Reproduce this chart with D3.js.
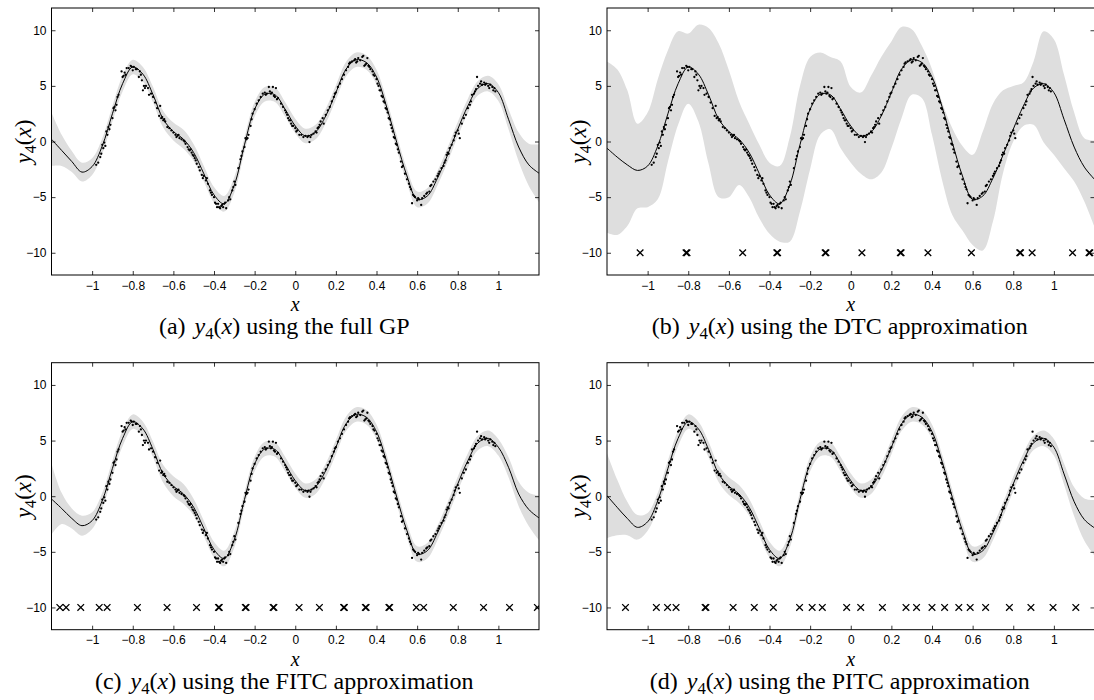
<!DOCTYPE html>
<html>
<head>
<meta charset="utf-8">
<script src="https://cdn.jsdelivr.net/npm/d3@7"></script>
<style>
body { margin: 0; background: #fff; }
.ticks text { font-family: "Liberation Sans", Arial, sans-serif; font-size: 12px; fill: #000; }
.serif { font-family: "Liberation Serif", "Times New Roman", serif; fill: #000; }
</style>
</head>
<body>
<svg id="fig" width="1094" height="700"></svg>
<script>
// grid the predictive curves were read on
var xGrid = [-1.2,-1.15,-1.1,-1.05,-1,-0.95,-0.9,-0.85,-0.8,-0.75,-0.7,-0.65,-0.6,-0.55,-0.5,-0.45,-0.4,-0.35,-0.3,-0.25,
  -0.2,-0.15,-0.1,-0.05,0,0.05,0.1,0.15,0.2,0.25,0.3,0.35,0.4,0.45,0.5,0.55,0.6,0.65,0.7,0.75,0.8,0.85,0.9,0.95,1,1.05,1.1,1.15,1.2];

// predictive means
var meanA = [0.2,-0.8,-1.8,-2.75,-2.25,-0.4,2.5,5.2,6.7,6.05,4.2,2.0,0.9,0.2,-1.0,-2.9,-4.8,-5.6,-3.9,-0.3,
  2.9,4.25,4.2,2.9,1.4,0.5,0.85,2.3,4.4,6.5,7.35,7.1,5.8,3.1,-0.1,-3.1,-5.2,-4.9,-3.3,-1.2,1.1,3.2,4.8,5.2,4.4,2.0,-0.5,-2.1,-2.85];
var meanB = [-0.6,-1.4,-2.1,-2.6,-2.2,-0.4,2.5,5.2,6.7,6.05,4.2,2.0,0.9,0.2,-1.0,-2.9,-4.8,-5.6,-3.9,-0.3,
  2.9,4.25,4.2,2.9,1.4,0.5,0.85,2.3,4.4,6.5,7.35,7.1,5.8,3.1,-0.1,-3.1,-5.2,-4.9,-3.3,-1.2,1.1,3.2,4.8,5.2,4.4,2.0,-0.5,-2.3,-3.4];
var meanC = [-0.25,-1.1,-2.0,-2.65,-2.2,-0.4,2.5,5.2,6.7,6.05,4.2,2.0,0.9,0.2,-1.0,-2.9,-4.8,-5.6,-3.9,-0.3,
  2.9,4.25,4.2,2.9,1.4,0.5,0.85,2.3,4.4,6.5,7.35,7.1,5.8,3.1,-0.1,-3.1,-5.2,-4.9,-3.3,-1.2,1.1,3.2,4.8,5.2,4.4,2.6,0.2,-1.2,-1.95];
var meanD = [0.05,-1.0,-2.0,-2.8,-2.3,-0.4,2.5,5.2,6.7,6.05,4.2,2.0,0.9,0.2,-1.0,-2.9,-4.8,-5.6,-3.9,-0.3,
  2.9,4.25,4.2,2.9,1.4,0.5,0.85,2.3,4.4,6.5,7.35,7.1,5.8,3.1,-0.1,-3.1,-5.2,-4.9,-3.3,-1.2,1.1,3.2,4.8,5.2,4.4,2.0,-0.5,-2.1,-2.85];

// two standard deviations (full GP, FITC, PITC)
var sdA = [2.4,1.4,0.95,0.85,0.75,0.7,0.7,0.7,0.65,0.65,0.7,0.75,0.8,0.85,0.75,0.7,0.7,0.7,0.7,0.65,
  0.65,0.65,0.65,0.65,0.65,0.65,0.65,0.65,0.65,0.65,0.65,0.65,0.65,0.65,0.65,0.65,0.7,0.7,0.65,0.65,0.65,0.65,0.65,0.7,0.75,0.9,1.3,1.9,2.6];
var sdC = [3.2,1.4,0.9,0.9,0.75,0.7,0.7,0.7,0.65,0.65,0.7,0.8,0.9,0.9,0.75,0.7,0.7,0.7,0.7,0.65,
  0.65,0.65,0.65,0.65,0.65,0.65,0.65,0.65,0.65,0.65,0.65,0.65,0.65,0.65,0.65,0.65,0.7,0.7,0.65,0.65,0.65,0.65,0.65,0.7,0.75,0.9,1.1,1.5,2.0];
var sdD = [3.8,2.5,1.5,1.1,0.8,0.7,0.7,0.7,0.65,0.65,0.7,0.75,0.8,0.8,0.75,0.7,0.7,0.7,0.7,0.65,
  0.65,0.65,0.65,0.65,0.65,0.65,0.65,0.65,0.65,0.65,0.65,0.65,0.65,0.65,0.65,0.65,0.7,0.7,0.65,0.65,0.65,0.65,0.65,0.7,0.75,0.95,1.3,1.9,2.5];

// DTC band edges
var upB = [7.2,6.5,4.6,1.6,2.6,5.6,8.2,9.9,9.7,10.5,10.2,8.8,6.4,3.6,1.6,-0.3,-1.9,-2.2,0.4,5.0,
  7.6,8.0,7.6,7.2,4.9,4.4,5.9,7.6,9.0,10.3,10.1,8.6,6.5,3.5,1.2,-0.4,-1.2,0.9,3.4,4.6,5.0,5.3,7.2,9.9,9.2,6.0,2.6,0.3,0.1];
var loB = [-8.2,-8.4,-7.6,-6.0,-5.9,-5.2,-1.8,1.5,3.4,1.8,-2.0,-5.0,-5.0,-3.9,-5.0,-6.9,-8.3,-9.0,-9.0,-6.3,
  -2.5,0.6,1.1,-0.6,-1.9,-2.9,-3.4,-2.8,-0.6,2.1,4.2,3.9,0.6,-3.5,-6.6,-8.0,-9.3,-9.8,-7.2,-2.8,0.0,1.4,1.5,-0.1,-1.2,-2.4,-3.6,-5.4,-7.7];

// training data (same in every panel)
var obs = [[-0.98,-2.1],[-0.97,-1.9],[-0.96,-1.4],[-0.955,-1.1],[-0.95,-0.3],[-0.945,-0.6],[-0.94,-0.1],[-0.935,-0.4],
  [-0.93,0.9],[-0.925,0.6],[-0.92,1.3],[-0.915,1.1],[-0.91,1.5],[-0.9,2.1],[-0.895,3.0],[-0.89,3.1],[-0.885,2.8],
  [-0.88,3.3],[-0.875,4.0],[-0.87,4.2],[-0.855,6.3],[-0.85,5.8],[-0.845,5.9],[-0.84,6.2],[-0.835,6.0],[-0.83,6.6],
  [-0.82,6.6],[-0.81,6.8],[-0.805,6.7],[-0.8,6.4],[-0.795,6.7],[-0.785,6.5],[-0.78,6.5],[-0.77,5.8],[-0.765,6.3],
  [-0.76,6.0],[-0.755,5.5],[-0.75,4.6],[-0.745,5.0],[-0.74,4.8],[-0.735,5.0],[-0.725,4.8],[-0.72,4.2],[-0.71,4.3],
  [-0.7,4.0],[-0.69,3.5],[-0.68,3.0],[-0.67,2.3],[-0.665,3.2],[-0.66,2.1],[-0.655,2.2],[-0.65,1.9],[-0.645,2.0],
  [-0.64,1.8],[-0.63,1.3],[-0.62,1.2],[-0.61,1.0],[-0.6,0.8],[-0.59,0.6],[-0.585,0.4],[-0.58,0.5],[-0.575,0.6],
  [-0.57,0.3],[-0.56,0.2],[-0.55,0.1],[-0.545,0.0],[-0.54,-0.2],[-0.53,-0.5],[-0.525,-0.7],[-0.52,-0.8],[-0.515,-0.7],
  [-0.51,-1.0],[-0.505,-1.2],[-0.5,-1.3],[-0.495,-1.5],[-0.49,-1.7],[-0.485,-2.0],[-0.475,-2.3],[-0.47,-2.6],
  [-0.46,-3.0],[-0.455,-3.3],[-0.45,-3.1],[-0.44,-3.5],[-0.435,-3.3],[-0.43,-3.8],[-0.42,-4.4],[-0.415,-4.6],
  [-0.41,-4.8],[-0.4,-5.0],[-0.395,-5.5],[-0.39,-5.6],[-0.385,-5.9],[-0.38,-5.6],[-0.375,-5.9],[-0.37,-6.0],
  [-0.365,-5.8],[-0.36,-5.7],[-0.355,-5.9],[-0.35,-5.6],[-0.345,-5.5],[-0.34,-6.0],[-0.33,-5.3],[-0.325,-5.0],
  [-0.32,-5.2],[-0.31,-4.4],[-0.305,-4.1],[-0.3,-3.6],[-0.295,-3.9],[-0.28,-2.4],[-0.27,-1.6],[-0.265,-1.3],
  [-0.26,-0.9],[-0.25,-0.5],[-0.245,0.3],[-0.24,0.2],[-0.235,0.3],[-0.23,0.6],[-0.22,1.4],[-0.215,2.0],[-0.21,2.5],
  [-0.2,2.9],[-0.19,3.4],[-0.18,3.7],[-0.17,4.0],[-0.16,4.3],[-0.15,4.4],[-0.145,4.2],[-0.14,4.3],[-0.13,4.9],
  [-0.125,4.5],[-0.12,4.3],[-0.115,4.4],[-0.11,4.9],[-0.105,4.1],[-0.1,4.0],[-0.095,4.8],[-0.09,3.8],[-0.085,3.9],
  [-0.07,3.4],[-0.06,3.1],[-0.05,2.8],[-0.045,2.6],[-0.04,2.4],[-0.035,2.1],[-0.03,1.9],[-0.025,1.9],[-0.02,1.6],
  [-0.015,1.4],[-0.01,1.4],[0.0,1.2],[0.005,0.9],[0.01,1.0],[0.02,0.6],[0.03,0.6],[0.04,0.4],[0.05,0.5],[0.06,0.4],
  [0.065,0.5],[0.07,-0.05],[0.075,0.4],[0.08,0.6],[0.09,0.7],[0.1,0.9],[0.105,0.8],[0.11,1.2],[0.115,1.3],[0.12,1.5],
  [0.125,1.8],[0.135,2.1],[0.14,1.6],[0.15,2.4],[0.16,2.8],[0.17,3.1],[0.18,3.6],[0.19,4.0],[0.195,4.3],[0.2,4.4],
  [0.21,4.9],[0.22,5.2],[0.23,5.6],[0.24,6.0],[0.25,6.4],[0.26,6.7],[0.265,7.0],[0.27,7.1],[0.28,7.2],[0.29,7.3],
  [0.295,7.4],[0.3,7.1],[0.305,7.2],[0.31,7.5],[0.32,7.3],[0.33,7.6],[0.335,7.7],[0.34,6.8],[0.345,6.9],[0.35,7.0],
  [0.355,7.5],[0.36,6.8],[0.365,6.7],[0.37,6.5],[0.38,6.3],[0.385,6.0],[0.39,5.9],[0.4,5.6],[0.405,5.2],[0.41,5.0],
  [0.415,4.6],[0.42,4.6],[0.425,4.1],[0.43,4.0],[0.435,3.6],[0.44,3.5],[0.445,3.0],[0.45,2.9],[0.455,2.6],[0.46,2.1],
  [0.465,2.0],[0.47,1.5],[0.475,1.2],[0.48,0.9],[0.485,0.4],[0.49,0.3],[0.495,-0.2],[0.5,-0.3],[0.505,-0.7],[0.51,-1.0],
  [0.52,-1.8],[0.525,-2.3],[0.53,-2.2],[0.54,-2.9],[0.55,-3.4],[0.56,-3.8],[0.565,-4.1],[0.57,-4.3],[0.575,-5.55],
  [0.58,-4.8],[0.585,-4.9],[0.59,-5.0],[0.6,-5.3],[0.605,-5.1],[0.61,-5.2],[0.62,-5.7],[0.625,-5.1],[0.635,-4.9],
  [0.645,-4.7],[0.65,-4.6],[0.66,-4.5],[0.665,-4.0],[0.67,-3.9],[0.68,-3.6],[0.69,-3.4],[0.7,-3.1],[0.705,-2.9],
  [0.71,-2.7],[0.72,-2.4],[0.73,-2.2],[0.735,-1.9],[0.74,-1.7],[0.745,-1.2],[0.75,-1.0],[0.755,-1.1],[0.76,-0.6],
  [0.77,-0.3],[0.78,0.1],[0.785,0.5],[0.79,0.8],[0.8,1.0],[0.805,0.7],[0.81,0.3],[0.82,1.6],[0.83,2.1],[0.84,2.4],
  [0.85,3.0],[0.86,3.3],[0.865,3.6],[0.87,4.2],[0.88,4.3],[0.885,4.5],[0.89,4.7],[0.895,5.8],[0.9,5.0],[0.91,5.2],
  [0.915,5.4],[0.92,5.1],[0.93,5.3],[0.935,5.1],[0.94,5.2],[0.95,5.0],[0.955,4.8],[0.96,5.1],[0.97,4.9],[0.975,4.6],
  [0.98,4.8],[0.985,4.5]];

// inducing inputs (drawn at y = -10)
var indB = [-1.037,-0.811,-0.806,-0.532,-0.364,-0.36,-0.126,-0.122,0.055,0.244,0.248,0.38,0.594,0.832,0.836,0.893,1.092,1.173,1.177];
var indC = [-1.159,-1.128,-1.056,-0.965,-0.926,-0.777,-0.631,-0.486,-0.378,-0.374,-0.246,-0.242,-0.109,-0.105,0.019,
  0.119,0.238,0.242,0.345,0.349,0.461,0.465,0.596,0.632,0.778,0.927,1.055,1.192];
var indD = [-1.109,-0.957,-0.902,-0.86,-0.717,-0.713,-0.579,-0.475,-0.381,-0.252,-0.19,-0.14,-0.02,0.049,0.156,
  0.272,0.324,0.4,0.462,0.532,0.588,0.664,0.781,0.887,0.996,1.108];

var xTicks = [-1,-0.8,-0.6,-0.4,-0.2,0,0.2,0.4,0.6,0.8,1];
var yTicks = [-10,-5,0,5,10];
var capLabels = ["(a)","(b)","(c)","(d)"];
var capTexts = [" using the full GP"," using the DTC approximation"," using the FITC approximation"," using the PITC approximation"];

var W = 487.5, H = 267;
var panels = [
  {left: 51.5, top: 8, mean: meanA, sd: sdA, ind: []},
  {left: 607, top: 8, mean: meanB, up: upB, lo: loB, ind: indB},
  {left: 51.5, top: 362.7, mean: meanC, sd: sdC, ind: indC},
  {left: 607, top: 362.7, mean: meanD, sd: sdD, ind: indD}
];

var x = d3.scaleLinear().domain([-1.2, 1.2]).range([0, W]);
var y = d3.scaleLinear().domain([-12, 12]).range([H, 0]);

var fmt = function(d) { return d < 0 ? "\u2212" + Math.abs(d) : String(d); };

var svg = d3.select("#fig");

// y_4(x) written with tspans
function mathY4(t, size, gap) {
  t.append("tspan").attr("font-style", "italic").attr("dx", gap).text("y");
  t.append("tspan").attr("font-size", size * 0.7).attr("dy", size * 0.22).text("4");
  t.append("tspan").attr("dy", -size * 0.22).text("(");
  t.append("tspan").attr("font-style", "italic").text("x");
  t.append("tspan").text(")");
}

panels.forEach(function(p, i) {
  var g = svg.append("g").attr("transform", "translate(" + p.left + "," + p.top + ")");

  g.append("clipPath").attr("id", "clip" + i)
    .append("rect").attr("width", W).attr("height", H);
  var plot = g.append("g").attr("clip-path", "url(#clip" + i + ")");

  var rows = xGrid.map(function(xv, j) {
    return {
      x: xv,
      m: p.mean[j],
      lo: p.lo ? p.lo[j] : p.mean[j] - p.sd[j],
      hi: p.up ? p.up[j] : p.mean[j] + p.sd[j]
    };
  });

  plot.append("path").datum(rows)
    .attr("fill", "#dedede")
    .attr("d", d3.area()
      .x(function(d) { return x(d.x); })
      .y0(function(d) { return y(d.lo); })
      .y1(function(d) { return y(d.hi); })
      .curve(d3.curveCatmullRom));

  plot.append("path").datum(rows)
    .attr("fill", "none")
    .attr("stroke", "#000")
    .attr("stroke-width", 1)
    .attr("d", d3.line()
      .x(function(d) { return x(d.x); })
      .y(function(d) { return y(d.m); })
      .curve(d3.curveCatmullRom));

  plot.selectAll("circle").data(obs)
    .enter().append("circle")
      .attr("cx", function(d) { return x(d[0]); })
      .attr("cy", function(d) { return y(d[1]); })
      .attr("r", 1.15)
      .attr("fill", "#000");

  plot.selectAll(".ind").data(p.ind)
    .enter().append("path")
      .attr("class", "ind")
      .attr("transform", function(d) { return "translate(" + x(d) + "," + y(-10) + ")"; })
      .attr("d", "M-3.3,-3.3L3.3,3.3M-3.3,3.3L3.3,-3.3")
      .attr("stroke", "#000")
      .attr("stroke-width", 1.3)
      .attr("fill", "none");

  // ticks pointing inwards on all four sides
  var axes = [
    {ax: d3.axisBottom(x).tickValues(xTicks).tickFormat(fmt).tickPadding(6), tr: "translate(0," + H + ")"},
    {ax: d3.axisTop(x).tickValues(xTicks).tickFormat(""), tr: "translate(0,0)"},
    {ax: d3.axisLeft(y).tickValues(yTicks).tickFormat(fmt).tickPadding(5), tr: "translate(0,0)"},
    {ax: d3.axisRight(y).tickValues(yTicks).tickFormat(""), tr: "translate(" + W + ",0)"}
  ];
  axes.forEach(function(a) {
    var ag = g.append("g").attr("class", "ticks").attr("transform", a.tr)
      .call(a.ax.tickSizeInner(-4).tickSizeOuter(0));
    ag.select(".domain").remove();
    ag.attr("font-family", null).attr("font-size", null);
    ag.selectAll("line").attr("stroke", "#000").attr("stroke-width", 0.8);
  });

  g.append("rect")
    .attr("width", W).attr("height", H)
    .attr("fill", "none").attr("stroke", "#000").attr("stroke-width", 1);

  // axis labels
  g.append("text").attr("class", "serif")
    .attr("x", W / 2).attr("y", H + 36)
    .attr("text-anchor", "middle").attr("font-size", 20).attr("font-style", "italic")
    .text("x");

  var yl = g.append("text").attr("class", "serif")
    .attr("transform", "translate(-21," + (H / 2) + ") rotate(-90)")
    .attr("text-anchor", "middle").attr("font-size", 23);
  mathY4(yl, 23, 0);

  // caption
  var cap = g.append("text").attr("class", "serif")
    .attr("x", W / 2 - 11).attr("y", H + 59)
    .attr("text-anchor", "middle").attr("font-size", 24);
  cap.append("tspan").text(capLabels[i]);
  mathY4(cap, 24, 9);
  cap.append("tspan").text(capTexts[i]);
});
</script>
</body>
</html>
